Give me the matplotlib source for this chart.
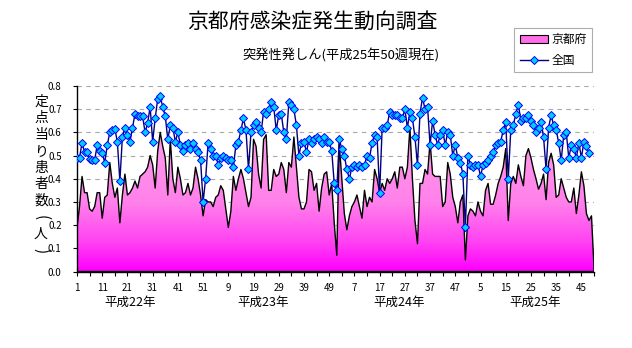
import numpy as np
import matplotlib
matplotlib.use('Agg')
import matplotlib.pyplot as plt
from matplotlib.colors import LinearSegmentedColormap
from matplotlib.patches import Patch
from matplotlib.lines import Line2D

plt.rcParams['font.family'] = ['Noto Sans CJK JP', 'DejaVu Sans']

# 定点当り患者数(人) 京都府, 週別
kyoto_h22 = [0.19, 0.28, 0.41, 0.34, 0.34, 0.27, 0.26, 0.28, 0.34, 0.34,
             0.23, 0.32, 0.33, 0.47, 0.38, 0.32, 0.36, 0.21, 0.33, 0.42,
             0.33, 0.34, 0.36, 0.39, 0.36, 0.41, 0.42, 0.43, 0.45, 0.50,
             0.46, 0.36, 0.52, 0.60, 0.54, 0.49, 0.33, 0.57, 0.40, 0.34,
             0.45, 0.40, 0.33, 0.34, 0.38, 0.33, 0.36, 0.45, 0.40, 0.33,
             0.24, 0.31]
kyoto_h23 = [0.30, 0.30, 0.28, 0.32, 0.33, 0.37, 0.35, 0.27, 0.19, 0.26,
             0.41, 0.35, 0.40, 0.44, 0.40, 0.34, 0.28, 0.32, 0.57, 0.54,
             0.42, 0.36, 0.57, 0.59, 0.35, 0.35, 0.44, 0.41, 0.42, 0.47,
             0.44, 0.34, 0.47, 0.45, 0.58, 0.45, 0.32, 0.27, 0.27, 0.30,
             0.44, 0.43, 0.35, 0.38, 0.26, 0.36, 0.42, 0.43, 0.33, 0.38,
             0.21, 0.07]
kyoto_h24 = [0.55, 0.40, 0.25, 0.18, 0.24, 0.28, 0.30, 0.33, 0.28, 0.23,
             0.35, 0.28, 0.32, 0.30, 0.44, 0.40, 0.34, 0.38, 0.35, 0.40,
             0.38, 0.40, 0.43, 0.36, 0.45, 0.45, 0.40, 0.45, 0.62, 0.40,
             0.22, 0.12, 0.38, 0.38, 0.44, 0.42, 0.56, 0.42, 0.41, 0.41,
             0.41, 0.28, 0.30, 0.47, 0.42, 0.32, 0.28, 0.21, 0.30, 0.33,
             0.05, 0.24]
kyoto_h25 = [0.27, 0.26, 0.24, 0.30, 0.26, 0.24, 0.35, 0.38, 0.29, 0.29,
             0.33, 0.38, 0.41, 0.45, 0.53, 0.22, 0.38, 0.41, 0.38, 0.46,
             0.41, 0.37, 0.50, 0.53, 0.49, 0.44, 0.40, 0.355, 0.38, 0.42,
             0.31, 0.47, 0.51, 0.46, 0.32, 0.33, 0.40, 0.36, 0.32, 0.30,
             0.30, 0.36, 0.25, 0.33, 0.43, 0.37, 0.25, 0.22, 0.24, 0.02]

# 全国
national_h22 = [0.49, 0.49, 0.555, 0.515, 0.515, 0.485, 0.48, 0.48, 0.545, 0.52,
                0.51, 0.47, 0.545, 0.60, 0.61, 0.615, 0.56, 0.39, 0.58, 0.62,
                0.59, 0.56, 0.62, 0.68, 0.67, 0.67, 0.67, 0.60, 0.64, 0.71,
                0.56, 0.66, 0.745, 0.755, 0.71, 0.67, 0.57, 0.63, 0.62, 0.56,
                0.60, 0.545, 0.52, 0.545, 0.555, 0.53, 0.555, 0.53, 0.515, 0.48,
                0.30, 0.40]
national_h23 = [0.555, 0.53, 0.50, 0.50, 0.46, 0.49, 0.50, 0.49, 0.48, 0.48,
                0.45, 0.545, 0.56, 0.61, 0.66, 0.61, 0.44, 0.60, 0.63, 0.645,
                0.62, 0.60, 0.69, 0.68, 0.70, 0.73, 0.71, 0.61, 0.675, 0.68,
                0.60, 0.57, 0.73, 0.72, 0.70, 0.63, 0.50, 0.555, 0.56, 0.515,
                0.57, 0.555, 0.57, 0.58, 0.57, 0.555, 0.58, 0.56, 0.56, 0.52,
                0.38, 0.35]
national_h24 = [0.57, 0.53, 0.50, 0.44, 0.40, 0.45, 0.46, 0.45, 0.46, 0.45,
                0.46, 0.50, 0.49, 0.555, 0.59, 0.58, 0.34, 0.62, 0.62, 0.63,
                0.69, 0.675, 0.675, 0.675, 0.66, 0.66, 0.70, 0.62, 0.69, 0.66,
                0.58, 0.46, 0.68, 0.75, 0.70, 0.71, 0.545, 0.65, 0.59, 0.545,
                0.59, 0.61, 0.545, 0.60, 0.59, 0.50, 0.545, 0.49, 0.47, 0.42,
                0.19, 0.50]
# 全国は48週まで
national_h25 = [0.46, 0.45, 0.46, 0.46, 0.41, 0.46, 0.47, 0.48, 0.50, 0.515,
                0.545, 0.555, 0.56, 0.61, 0.645, 0.40, 0.61, 0.63, 0.68, 0.72,
                0.65, 0.66, 0.66, 0.675, 0.65, 0.63, 0.60, 0.62, 0.645, 0.58,
                0.44, 0.62, 0.675, 0.63, 0.61, 0.555, 0.48, 0.59, 0.60, 0.49,
                0.545, 0.53, 0.49, 0.555, 0.49, 0.56, 0.54, 0.51]

year_names = ['平成22年', '平成23年', '平成24年', '平成25年']
weeks_in_year = [52, 52, 52, 50]

kyoto = np.array(kyoto_h22 + kyoto_h23 + kyoto_h24 + kyoto_h25)
national = np.array(national_h22 + national_h23 + national_h24 + national_h25)
national = np.concatenate([national, np.full(len(kyoto) - len(national), np.nan)])

week_no = np.concatenate([np.arange(1, n + 1) for n in weeks_in_year])
x = np.arange(len(kyoto))

fig = plt.figure(figsize=(6.32, 3.48), dpi=100)
ax = fig.add_axes([77 / 632, 1 - 271.5 / 348, 517 / 632, 185.5 / 348])

# 京都府: グラデーション付き面グラフ
area = ax.fill_between(x, kyoto, 0, facecolor='none', edgecolor='black', lw=1.0, zorder=3)
pink = LinearSegmentedColormap.from_list(
    'pink', [(0.0, '#ff00ff'), (0.2, '#ff44f2'), (0.45, '#ff80ea'), (1.0, '#ffa4ea')])
grad = ax.imshow(np.linspace(0, 1, 256).reshape(-1, 1), cmap=pink, origin='lower',
                 extent=[0, len(x) - 1, 0, 0.65], aspect='auto', zorder=2)
grad.set_clip_path(area.get_paths()[0], transform=ax.transData)

# 全国: 折れ線
ax.plot(x, national, color='#000080', lw=1.0, marker='D', markersize=4.2,
        markerfacecolor='#00ccff', markeredgecolor='#0000ff', markeredgewidth=0.7, zorder=4)

ax.set_xlim(0, len(x) - 1)
ax.set_ylim(0, 0.8)
ax.set_yticks(np.arange(0, 0.81, 0.1))
ax.set_yticklabels(['%.1f' % v for v in np.arange(0, 0.81, 0.1)], fontsize=7)
ax.yaxis.grid(True, color='#a8a8a8', linestyle=(0, (4, 4)), lw=0.8)
ax.set_axisbelow(True)

ax.set_xticks(x[::5], minor=True)
ax.set_xticks(x[::10])
ax.set_xticklabels([str(w) for w in week_no[::10]], fontsize=7)
ax.tick_params(axis='x', which='both', direction='out', length=3, width=0.8, pad=5)
ax.tick_params(axis='y', direction='out', length=3, width=0.8, pad=8)

for side in ['top', 'right']:
    ax.spines[side].set_visible(False)
for side in ['left', 'bottom']:
    ax.spines[side].set_linewidth(1.0)
    ax.spines[side].set_color('black')

# 年の見出し
year_pos = [20.9, 73.7, 127.6, 181.5]
for name, pos in zip(year_names, year_pos):
    ax.text(pos, -0.165, name, transform=ax.get_xaxis_transform(), ha='center', va='center', fontsize=9)

fig.text(312 / 632, 1 - 22 / 348, '京都府感染症発生動向調査', ha='center', va='center', fontsize=15)
fig.text(341 / 632, 1 - 55 / 348, '突発性発しん(平成25年50週現在)', ha='center', va='center', fontsize=9.5)

# 縦書きの軸ラベル(括弧は90度回転)
ylabel_chars = ['定', '点', '当', 'り', '患', '者', '数', '(', '人', ')']
for k, ch in enumerate(ylabel_chars):
    ypix = 101.7 + k * 16.5
    if ch in '()':
        fig.text(41 / 632, 1 - ypix / 348, ch, ha='center', va='center',
                 fontsize=11, rotation=-90)
    else:
        fig.text(41 / 632, 1 - ypix / 348, ch, ha='center', va='center', fontsize=10)

handles = [Patch(facecolor='#ff6ee6', edgecolor='black', lw=0.8),
           Line2D([], [], color='#000080', lw=1.0, marker='D', markersize=4.2,
                  markerfacecolor='#00ccff', markeredgecolor='#0000ff', markeredgewidth=0.7)]
leg = fig.legend(handles, ['京都府', '全国'], loc='upper right',
                 bbox_to_anchor=(592 / 632, 1 - 28 / 348), fontsize=8.5, frameon=True,
                 fancybox=False, edgecolor='#999999', handlelength=2.4, handletextpad=0.3,
                 borderpad=0.45, labelspacing=0.65, borderaxespad=0)
leg.get_frame().set_linewidth(0.8)

fig.savefig('out.png', dpi=100)
